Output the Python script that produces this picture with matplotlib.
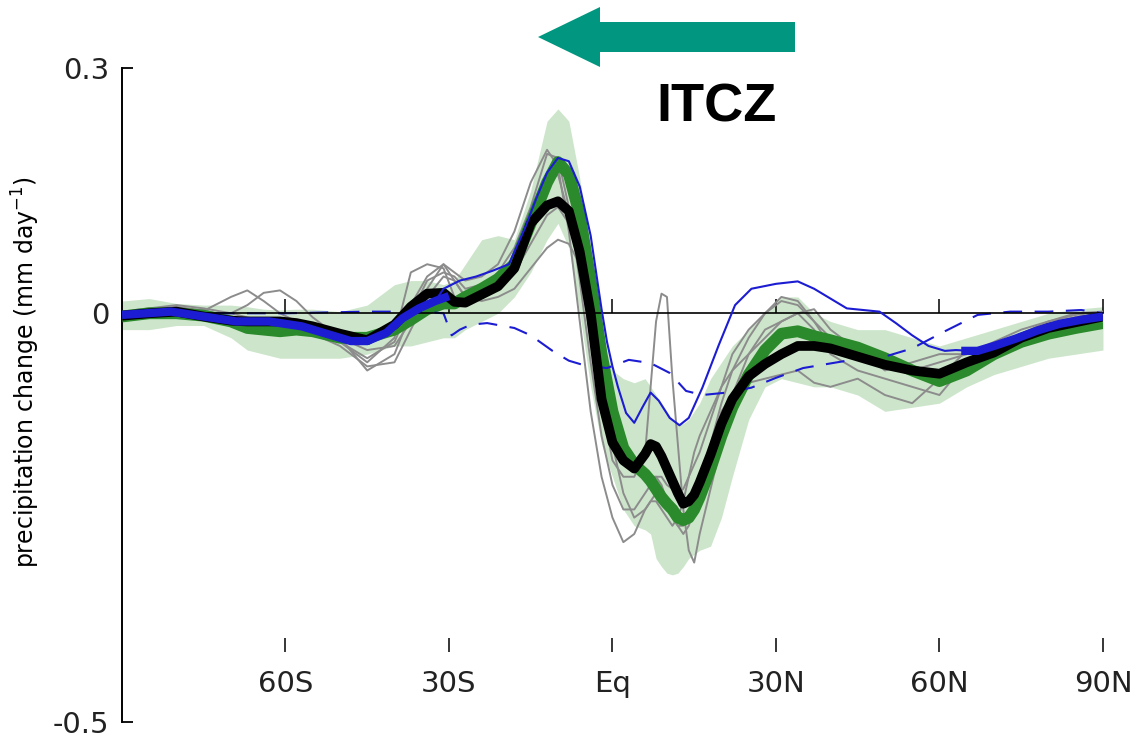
import matplotlib
matplotlib.use("Agg")
import matplotlib.pyplot as plt
from matplotlib.patches import FancyArrow

plt.rcParams["axes.unicode_minus"] = False

# latitude grid shared by the model members, the ensemble mean and the spread band
lat = [-90, -85, -80, -75, -70, -67, -64, -61, -58, -55, -50, -45, -40, -37, -34,
       -31, -29, -27, -24, -21, -18, -15, -12, -10, -8, -6, -4, -2, 0, 2,
       4, 6, 7, 8, 9, 10, 11, 12, 13, 14, 15, 16, 18, 20, 22,
       25, 28, 31, 34, 37, 40, 45, 50, 55, 60, 65, 70, 75, 80, 85, 90]

# individual models (grey)
model_1 = [0.0, 0.005, 0.008, 0.003, 0.02, 0.028, 0.015, 0.0, -0.01, -0.02, -0.035, -0.06, -0.03, 0.05, 0.06,
           0.055, 0.02, 0.015, 0.03, 0.05, 0.08, 0.13, 0.195, 0.19, 0.13, 0.04, -0.06, -0.15, -0.21, -0.24,
           -0.24, -0.22, -0.21, -0.2, -0.2, -0.21, -0.215, -0.22, -0.215, -0.2, -0.185, -0.17, -0.13, -0.09, -0.05,
           -0.02, 0.0, 0.015, 0.01, -0.01, -0.03, -0.05, -0.06, -0.07, -0.06, -0.05, -0.035, -0.02, -0.01, 0.0, 0.002]
model_2 = [-0.002, 0.0, 0.0, -0.005, 0.0, 0.01, 0.025, 0.028, 0.015, -0.005, -0.03, -0.07, -0.05, 0.0, 0.04,
           0.05, 0.045, 0.03, 0.035, 0.04, 0.06, 0.11, 0.16, 0.17, 0.12, 0.05, -0.03, -0.11, -0.18, -0.2,
           -0.2, -0.17, -0.09, -0.01, 0.024, 0.02, -0.08, -0.16, -0.24, -0.29, -0.305, -0.27, -0.215, -0.16, -0.1,
           -0.05, -0.02, -0.01, 0.0, -0.02, -0.05, -0.07, -0.08, -0.09, -0.1, -0.06, -0.04, -0.03, -0.012, -0.005, 0.0]
model_3 = [0.0, 0.004, 0.006, 0.004, -0.005, -0.01, -0.012, -0.015, -0.02, -0.025, -0.04, -0.065, -0.06, -0.02, 0.02,
           0.045, 0.04, 0.02, 0.015, 0.02, 0.03, 0.055, 0.08, 0.09, 0.085, 0.06, 0.0, -0.08, -0.16, -0.22,
           -0.25, -0.24, -0.23, -0.22, -0.22, -0.23, -0.25, -0.26, -0.26, -0.25, -0.23, -0.21, -0.17, -0.12, -0.1,
           -0.085, -0.08, -0.075, -0.07, -0.085, -0.09, -0.08, -0.1, -0.11, -0.08, -0.045, -0.04, -0.03, -0.015, -0.005, 0.0]
model_4 = [-0.004, -0.002, 0.002, 0.0, -0.006, -0.008, -0.01, -0.012, -0.015, -0.02, -0.03, -0.045, -0.04, -0.01, 0.03,
           0.06, 0.05, 0.04, 0.045, 0.06, 0.1, 0.16, 0.2, 0.18, 0.1, -0.01, -0.12, -0.2, -0.25, -0.28,
           -0.27, -0.24, -0.23, -0.23, -0.24, -0.25, -0.26, -0.25, -0.23, -0.2, -0.17, -0.15, -0.12, -0.09, -0.07,
           -0.05, -0.03, -0.01, 0.0, 0.005, -0.02, -0.045, -0.07, -0.06, -0.05, -0.05, -0.04, -0.025, -0.01, -0.002, 0.002]
model_5 = [0.002, 0.006, 0.01, 0.006, 0.0, -0.005, -0.01, -0.01, -0.012, -0.02, -0.035, -0.055, -0.035, 0.01, 0.045,
           0.06, 0.04, 0.02, 0.02, 0.035, 0.05, 0.085, 0.12, 0.13, 0.11, 0.07, 0.01, -0.07, -0.13, -0.17,
           -0.19, -0.2, -0.2, -0.2, -0.21, -0.23, -0.25, -0.26, -0.27, -0.26, -0.24, -0.21, -0.16, -0.11, -0.07,
           -0.03, 0.0, 0.02, 0.015, -0.01, -0.04, -0.055, -0.065, -0.075, -0.07, -0.06, -0.05, -0.03, -0.015, -0.005, 0.0]
models = [model_1, model_2, model_3, model_4, model_5]

# multi-model mean and its spread
ens_mean = [-0.004, 0.0, 0.0, -0.003, -0.01, -0.018, -0.02, -0.022, -0.02, -0.022, -0.03, -0.03, -0.02, -0.008, 0.005,
            0.012, 0.012, 0.02, 0.03, 0.042, 0.06, 0.11, 0.16, 0.185, 0.17, 0.12, 0.04, -0.05, -0.12, -0.165,
            -0.185, -0.197, -0.205, -0.215, -0.225, -0.233, -0.24, -0.25, -0.253, -0.25, -0.24, -0.225, -0.19, -0.15, -0.115,
            -0.075, -0.045, -0.025, -0.022, -0.028, -0.033, -0.042, -0.055, -0.07, -0.083, -0.07, -0.05, -0.035, -0.025, -0.018, -0.012]
spread_hi = [0.015, 0.018, 0.012, 0.01, 0.01, 0.008, 0.005, 0.004, 0.005, 0.005, 0.002, 0.01, 0.035, 0.04, 0.04,
             0.035, 0.04, 0.06, 0.09, 0.095, 0.09, 0.15, 0.235, 0.25, 0.235, 0.165, 0.08, -0.02, -0.07, -0.08,
             -0.085, -0.08, -0.09, -0.1, -0.11, -0.12, -0.13, -0.135, -0.135, -0.13, -0.12, -0.11, -0.08, -0.06, -0.04,
             -0.02, 0.0, 0.02, 0.02, 0.0, -0.01, -0.02, -0.02, -0.03, -0.04, -0.03, -0.02, -0.01, 0.0, 0.005, 0.008]
spread_lo = [-0.02, -0.02, -0.015, -0.015, -0.03, -0.045, -0.05, -0.055, -0.055, -0.055, -0.055, -0.05, -0.04, -0.04, -0.035,
             -0.03, -0.03, -0.02, -0.01, 0.0, 0.02, 0.05, 0.09, 0.11, 0.08, 0.0, -0.09, -0.16, -0.2, -0.24,
             -0.26, -0.265, -0.27, -0.3, -0.31, -0.318, -0.32, -0.318, -0.31, -0.3, -0.295, -0.29, -0.285, -0.25, -0.2,
             -0.13, -0.09, -0.08, -0.085, -0.09, -0.09, -0.1, -0.12, -0.115, -0.11, -0.09, -0.075, -0.065, -0.055, -0.05, -0.045]

# observations (black)
obs = [-0.003, 0.0, 0.002, -0.004, -0.009, -0.01, -0.01, -0.01, -0.012, -0.016, -0.025, -0.033, -0.014, 0.008, 0.024,
       0.025, 0.014, 0.013, 0.023, 0.033, 0.055, 0.11, 0.132, 0.137, 0.125, 0.075, 0.0, -0.105, -0.158, -0.18,
       -0.19, -0.172, -0.16, -0.163, -0.175, -0.19, -0.205, -0.22, -0.233, -0.23, -0.222, -0.207, -0.173, -0.135, -0.105,
       -0.077, -0.062, -0.05, -0.04, -0.04, -0.043, -0.053, -0.063, -0.07, -0.074, -0.06, -0.048, -0.03, -0.018, -0.011, -0.004]

# single forced run (blue, thin in the tropics, thick poleward)
run_lat = [-33, -31, -28, -25, -22, -19, -16, -14, -12, -10, -8, -6, -4, -3, -2,
           -1, 0, 1, 2.5, 4, 5.5, 7, 8.5, 10.5, 12.3, 14, 16.5, 19.5, 22.5, 25.5,
           30, 34, 37, 40, 43, 46, 49, 52, 55, 58, 61, 63, 66]
run = [0.01, 0.03, 0.04, 0.045, 0.052, 0.06, 0.105, 0.14, 0.172, 0.19, 0.186, 0.155, 0.095, 0.05, 0.005,
       -0.035, -0.065, -0.09, -0.122, -0.134, -0.115, -0.097, -0.107, -0.128, -0.137, -0.128, -0.091, -0.039, 0.01, 0.03,
       0.036, 0.039, 0.03, 0.018, 0.006, 0.004, 0.002, -0.012, -0.027, -0.04, -0.046, -0.045, -0.046]
run_lat_south = [-90, -81, -75, -69, -63, -57, -51, -48, -45, -41.5, -38.5, -35.5, -32.5, -30]
run_south = [-0.002, 0.002, -0.004, -0.01, -0.01, -0.016, -0.028, -0.034, -0.034, -0.024, -0.006, 0.006, 0.015, 0.021]
run_lat_north = [64, 67, 70, 74, 78, 82, 86, 90]
run_north = [-0.046, -0.046, -0.04, -0.031, -0.021, -0.013, -0.008, -0.004]

# second forced run (blue dashed)
run2_lat = [-90, -75, -60, -45, -35, -31, -29.5, -28, -26, -23, -18, -15, -11, -8, -5,
            -1, 3, 7, 10.5, 13.5, 16.5, 21, 25.5, 30, 35, 43, 49, 55, 61, 67,
            73, 80, 86, 90]
run2 = [0.0, 0.0, 0.0, 0.002, 0.002, 0.0, -0.027, -0.02, -0.014, -0.012, -0.018, -0.027, -0.046, -0.058, -0.064,
        -0.067, -0.057, -0.061, -0.073, -0.095, -0.1, -0.097, -0.091, -0.079, -0.067, -0.058, -0.055, -0.043, -0.022, -0.002,
        0.002, 0.002, 0.004, 0.0]

xticks = [-60, -30, 0, 30, 60, 90]
xticklabels = ["60S", "30S", "Eq", "30N", "60N", "90N"]
yticks = [-0.5, 0, 0.3]
yticklabels = ["-0.5", "0", "0.3"]

blue = "#1c1cd2"
green = "#2b8a2b"

fig = plt.figure(figsize=(11.42, 7.38), dpi=100)
ax = fig.add_axes([0.1068, 0.0217, 0.8590, 0.8861])

ax.fill_between(lat, spread_lo, spread_hi, color="#cde6cb", lw=0, zorder=1)
for m in models:
    ax.plot(lat, m, color="#8c8c8c", lw=1.4, zorder=2)
ax.plot(lat, ens_mean, color=green, lw=8.5, solid_capstyle="butt", zorder=3)
ax.plot(run2_lat, run2, color=blue, lw=1.5, ls=(0, (9, 6)), zorder=4)
ax.plot(lat, obs, color="black", lw=7, solid_capstyle="butt", zorder=5)
ax.plot(run_lat_south, run_south, color=blue, lw=6, solid_capstyle="butt", zorder=6)
ax.plot(run_lat_north, run_north, color=blue, lw=6, solid_capstyle="butt", zorder=6)
ax.plot(run_lat, run, color=blue, lw=1.5, zorder=7)

ax.set_xlim(-90, 90)
ax.set_ylim(-0.5, 0.3)

# zero line carries upward ticks; bottom ticks float above the labels
ax.spines["top"].set_position(("data", 0))
ax.spines["top"].set_linewidth(1.2)
ax.spines["top"].set_zorder(4.5)
ax.spines["bottom"].set_position(("data", -0.397))
ax.spines["bottom"].set_visible(False)
ax.spines["right"].set_visible(False)
ax.spines["left"].set_linewidth(1.4)

ax.set_xticks(xticks)
ax.set_xticklabels(xticklabels)
ax.xaxis.set_ticks_position("both")
ax.tick_params(axis="x", direction="out", length=10, width=1.1, pad=13,
               labelsize=21, labelcolor="#222222", top=True, labeltop=False)
ax.set_yticks(yticks)
ax.set_yticklabels(yticklabels)
ax.tick_params(axis="y", direction="in", length=8, width=1.3, pad=9,
               labelsize=21, labelcolor="#222222")

ax.set_ylabel("precipitation change (mm day$^{-1}$)", fontsize=17)
ax.yaxis.set_label_coords(-0.082, 0.535)

# ITCZ shift arrow and label
fig.patches.append(FancyArrow(7.95, 7.01, -2.57, 0, width=0.30, head_width=0.60,
                              head_length=0.62, length_includes_head=True,
                              color="#00967f", lw=0, transform=fig.dpi_scale_trans))
fig.text(7.16 / 11.42, (7.38 - 1.08) / 7.38, "ITCZ", fontsize=39, fontweight="bold",
         family="Liberation Sans", ha="center", va="center")

fig.savefig("out.png", dpi=100)
